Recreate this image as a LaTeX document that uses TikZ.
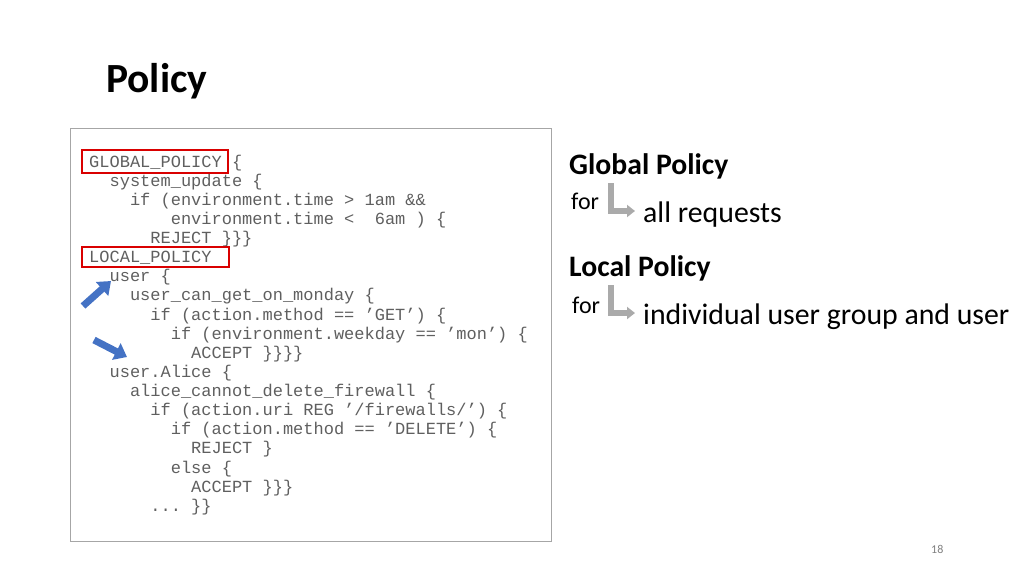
\documentclass[tikz,border=0pt]{standalone}
\usepackage{fontspec}
\setmainfont{Carlito}
\setmonofont{Liberation Mono}
\usetikzlibrary{arrows.meta}
\definecolor{codegray}{RGB}{95,95,95}
\definecolor{arrblue}{RGB}{68,114,196}
\definecolor{lgray}{RGB}{170,170,170}
\begin{document}
\begin{tikzpicture}[x=1pt,y=-1pt,
  code/.style={anchor=base west,inner sep=0pt,font=\fontsize{17}{18}\ttfamily,text=codegray},
  redbox/.style={draw=red!85!black,line width=1.3pt},
  bluearrow/.style={arrblue,line width=7pt,-{Triangle[width=18pt,length=12pt]}},
  grayL/.style={lgray,line width=6.5pt,-{Triangle[width=12pt,length=8pt]}},
  head/.style={anchor=base west,inner sep=0pt,font=\fontsize{29.7}{34}\selectfont\bfseries},
  fortxt/.style={anchor=base west,inner sep=0pt,font=\fontsize{24}{28}\selectfont},
  body/.style={anchor=base west,inner sep=0pt,font=\fontsize{29.8}{34}\selectfont}]
\useasboundingbox (0,0) rectangle (1024,576);
\node[anchor=base west,inner sep=0pt,font=\fontsize{41.5}{46}\selectfont\bfseries] (title) at (106,92) {Policy};
\draw[draw=gray!70,line width=1pt] (70,128) rectangle (551,541);
\foreach \ind/\txt [count=\i from 0] in {
 0/{GLOBAL\_POLICY \{},
 2/{system\_update \{},
 4/{if (environment.time > 1am \&\&},
 8/{environment.time <~~6am ) \{},
 6/{REJECT \}\}\}},
 0/{LOCAL\_POLICY},
 2/{user \{},
 4/{user\_can\_get\_on\_monday \{},
 6/{if (action.method == ’GET’) \{},
 8/{if (environment.weekday == ’mon’) \{},
 10/{ACCEPT \}\}\}\}},
 2/{user.Alice \{},
 4/{alice\_cannot\_delete\_firewall \{},
 6/{if (action.uri REG ’/firewalls/’) \{},
 8/{if (action.method == ’DELETE’) \{},
 10/{REJECT \}},
 8/{else \{},
 10/{ACCEPT \}\}\}},
 6/{... \}\}}}
 \node[code] (l\i) at ({89+\ind*10.2},{167+\i*19.13}) {\txt};
\draw[redbox] (82,150) rectangle (228,173);
\draw[redbox] (82,247) rectangle (229,267);
\coordinate (a1s) at (83,306); \coordinate (a1e) at (111,281);
\coordinate (a2s) at (94,340); \coordinate (a2e) at (127,357);
\draw[bluearrow] (a1s) -- (a1e);
\draw[bluearrow] (a2s) -- (a2e);
\node[head] (gp) at (569,174) {Global Policy};
\node[fortxt] (f1) at (571,209) {for};
\node[body] (ar) at (643,222) {all requests};
\node[head] (lp) at (569,276) {Local Policy};
\node[fortxt] (f2) at (572,313) {for};
\node[body] (iu) at (643,324) {individual user group and user};
\coordinate (g1) at (611,183); \coordinate (g2) at (611,211); \coordinate (g3) at (635,211);
\draw[grayL] (g1) -- (g2) -- (g3);
\coordinate (h1) at (611,285); \coordinate (h2) at (611,313); \coordinate (h3) at (635,313);
\draw[grayL] (h1) -- (h2) -- (h3);
\node[anchor=base west,inner sep=0pt,font=\fontsize{12}{14}\selectfont,text=gray] (pg) at (931,553) {18};
\end{tikzpicture}
\end{document}
